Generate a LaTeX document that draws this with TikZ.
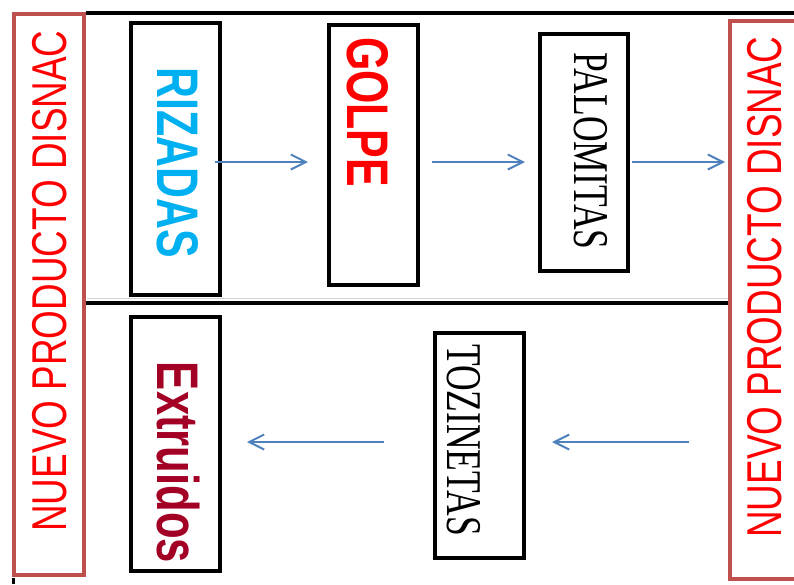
\documentclass[tikz,border=0pt]{standalone}
\usepackage{fontspec}
\setmainfont{Liberation Serif}
\setsansfont{Liberation Sans}
\usetikzlibrary{arrows.meta}
\definecolor{boxred}{RGB}{192,80,77}
\definecolor{txtred}{RGB}{255,0,0}
\definecolor{rizblue}{RGB}{0,176,240}
\definecolor{extred}{RGB}{163,0,38}
\definecolor{arrblue}{RGB}{79,129,189}
\tikzset{
  bx/.style={draw=black, line width=4pt, inner sep=0pt, outer sep=0pt},
  redbx/.style={draw=boxred, line width=4pt, inner sep=0pt, outer sep=0pt},
  bigsans/.style={inner sep=0pt, font=\sffamily\bfseries\fontsize{58.7}{60}\selectfont, rotate=-90},
  bigserif/.style={inner sep=0pt, font=\rmfamily\fontsize{50}{52}\selectfont, rotate=-90},
  disnac/.style={inner sep=0pt, text=txtred, font=\sffamily\fontsize{48.9}{50}\selectfont, rotate=90},
  arr/.style={draw=arrblue, line width=2pt, -{Straight Barb[length=15pt,width=15pt,line width=2pt]}},
  sepline/.style={draw=black, line width=4pt}
}
\begin{document}
\begin{tikzpicture}[x=1pt,y=-1pt]
\useasboundingbox (0,0) rectangle (794,584);
\clip (0,0) rectangle (794,584);
\fill[white] (0,0) rectangle (794,584);
% faint table rule
\draw[gray!35, line width=0.8pt] (87,298) -- (728,298);
% black rules
\coordinate (topL) at (86,13);
\coordinate (topR) at (794,13);
\coordinate (midL) at (86,303);
\coordinate (midR) at (728,303);
\draw[sepline] (topL) -- (topR);
\draw[sepline] (midL) -- (midR);
\draw[black, line width=3pt] (13,578) -- (13,584);
% red side boxes
\node[redbx, minimum width=70pt, minimum height=561pt] (leftbox) at (49,294.5) {};
\node[redbx, minimum width=80pt, minimum height=558pt] (rightbox) at (770,300) {};
\node[disnac] (lefttxt) at (49.5,281) {\scalebox{0.754}[1]{NUEVO PRODUCTO DISNAC}};
\node[disnac] (righttxt) at (764.5,287) {\scalebox{0.754}[1]{NUEVO PRODUCTO DISNAC}};
% black boxes
\node[bx, minimum width=89pt, minimum height=272pt] (rizbox) at (175.5,159) {};
\node[bx, minimum width=89pt, minimum height=260pt] (golbox) at (373.5,155) {};
\node[bx, minimum width=88pt, minimum height=237pt] (palbox) at (584,152.5) {};
\node[bx, minimum width=89pt, minimum height=254pt] (extbox) at (175.5,444) {};
\node[bx, minimum width=89pt, minimum height=225pt] (tozbox) at (479.5,445.5) {};
% texts
\node[bigsans, text=rizblue] (riz) at (178,163) {\scalebox{0.73}[1]{RIZADAS}};
\node[bigsans, text=txtred] (gol) at (367.5,112) {\scalebox{0.73}[1]{GOLPE}};
\node[bigsans, text=extred] (ext) at (178,462.5) {\scalebox{0.743}[1]{Extruidos}};
\node[bigserif] (pal) at (590.5,151) {\scalebox{0.71}[1]{PALOMITAS}};
\node[bigserif] (toz) at (464,440) {\scalebox{0.71}[1]{TOZINETAS}};
% arrows
\coordinate (a1s) at (215,162); \coordinate (a1e) at (308,162);
\coordinate (a2s) at (432,162); \coordinate (a2e) at (525,162);
\coordinate (a3s) at (632,162); \coordinate (a3e) at (725,162);
\coordinate (a4s) at (689,442); \coordinate (a4e) at (552,442);
\coordinate (a5s) at (384,442); \coordinate (a5e) at (247,442);
\draw[arr] (a1s) -- (a1e);
\draw[arr] (a2s) -- (a2e);
\draw[arr] (a3s) -- (a3e);
\draw[arr] (a4s) -- (a4e);
\draw[arr] (a5s) -- (a5e);
\end{tikzpicture}
\end{document}
